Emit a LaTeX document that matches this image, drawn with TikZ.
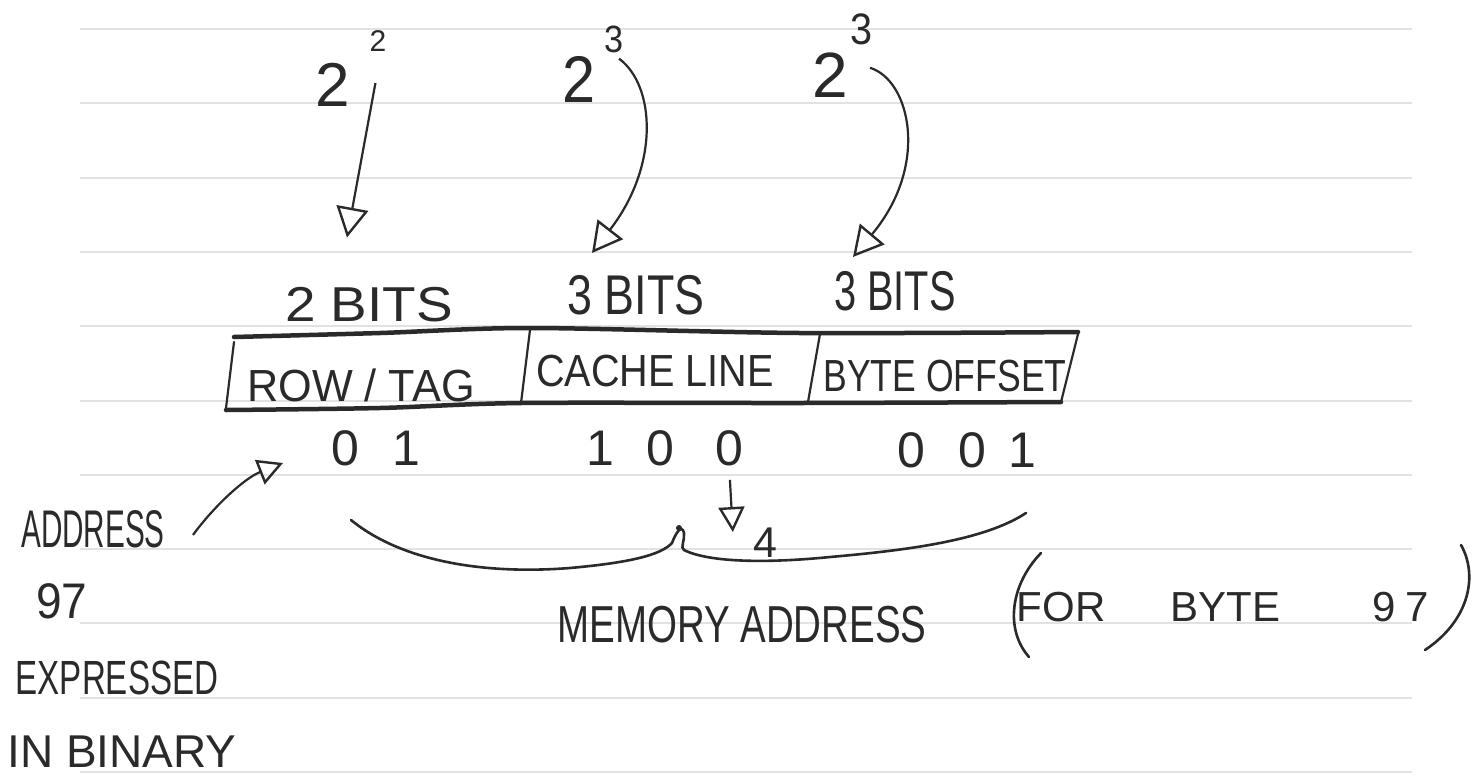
\documentclass[tikz,border=0pt]{standalone}
\usepackage{fontspec}
\usepackage{graphicx}
\setmainfont{Liberation Sans}
\usetikzlibrary{arrows.meta,calc}
\definecolor{ink}{HTML}{2A2A2A}
\definecolor{paperline}{HTML}{E2E2E2}
\newcommand\hw[3]{\scalebox{#3}[1]{\fontsize{#1}{#1}\selectfont #2}}
\begin{document}
\begin{tikzpicture}[x=1pt,y=-1pt,
  hw/.style={inner sep=0pt,text=ink,anchor=center},
  paper/.style={draw=paperline,line width=2pt},
  conn/.style={draw=ink,line width=2.2pt,-{Triangle[open,length=30pt,width=32pt,line width=2.4pt]}},
  connsm/.style={draw=ink,line width=2.2pt,-{Triangle[open,length=25pt,width=26pt,line width=2.4pt]}},
  thick box/.style={draw=ink,line width=4.5pt,line cap=round},
  thin box/.style={draw=ink,line width=2.2pt,line cap=round},
  pen/.style={draw=ink,line width=2.6pt,line cap=round}]
\useasboundingbox[fill=white] (0,0) rectangle (1482,782);
% ruled paper
\foreach \k in {0,...,10}
  \draw[paper] (80,{29+74.3*\k}) -- (1412,{29+74.3*\k});

% powers of two
\node[hw] (b1) at (333,85) {\hw{62}{2}{1}};
\node[hw] (e1) at (378,41) {\hw{30}{2}{1}};
\node[hw] (b2) at (579,79) {\hw{66}{2}{0.9}};
\node[hw] (e2) at (614,39) {\hw{38}{3}{0.9}};
\node[hw] (b3) at (830,75) {\hw{64}{2}{1}};
\node[hw] (e3) at (861,29) {\hw{44}{3}{0.9}};

% bit counts
\node[hw] (n1) at (369,305) {\hw{49}{2 BITS}{1.12}};
\node[hw] (n2) at (636,295) {\hw{56}{3 BITS}{0.8}};
\node[hw] (n3) at (895,291) {\hw{56}{3 BITS}{0.71}};

% arrows from powers to bit counts
\draw[conn] ($(b1.east)+(25,-2)$) -- ($(n1.north)+(-22,-50)$);
\draw[conn] ($(e2.south)+(5,6)$) .. controls (655,85) and (660,165) .. ($(n2.north)+(-44,-22)$);
\draw[conn] ($(e3.south)+(9,23)$) .. controls (910,80) and (930,165) .. ($(n3.north)+(-42,-14)$);

% address box
\draw[thick box] plot[smooth] coordinates {(234,337) (380,333) (530,328) (800,333) (1078,332)};
\draw[thick box] plot[smooth] coordinates {(226,410) (380,408) (521,403) (800,403) (1061,402)};
\draw[thin box] (234,342) -- (226,408);
\draw[thin box] (530,330) -- (521,403);
\draw[thin box] (820,334) -- (808,402);
\draw[thin box] (1078,334) -- (1061,402);
\node[hw] (c1) at (361,385) {\hw{45}{ROW / TAG}{0.96}};
\node[hw] (c2) at (655,371) {\hw{45}{CACHE LINE}{0.88}};
\node[hw] (c3) at (945,376) {\hw{45}{BYTE OFFSET}{0.79}};

% binary values
\node[hw] (v1) at (376,448) {\hw{50}{0\hspace{34pt}1}{1}};
\node[hw] (v2) at (665,448) {\hw{50}{1\hspace{32pt}0\hspace{42pt}0}{1}};
\node[hw] (v3) at (967,450) {\hw{50}{0\hspace{33pt}0\hspace{23pt}1}{1}};

% left note
\node[hw] (addr) at (93,529) {\hw{53}{ADDRESS}{0.56}};
\node[hw] (n97) at (62,601) {\hw{50}{97}{0.92}};
\node[hw] (expr) at (117,678) {\hw{48}{EXPRESSED}{0.69}};
\node[hw] (bin) at (122,752) {\hw{46}{IN BINARY}{1.0}};
\draw[connsm] ($(addr.east)+(28,6)$) .. controls (215,505) and (245,478) .. ($(v1.west)+(-48,15)$);

% brace under the bits
\draw[pen] (351,520) .. controls (400,560) and (480,575) .. (570,568)
  .. controls (625,563) and (660,556) .. (672,543)
  .. controls (676,532) and (682,524) .. (684,533)
  .. controls (685,540) and (680,548) .. (684,550)
  .. controls (710,563) and (770,563) .. (830,557)
  .. controls (910,550) and (985,540) .. (1026,513);
\fill[ink] (679,528) circle (3pt);

% cache line value 4
\node[hw] (four) at (765,543) {\hw{43}{4}{1}};
\draw[connsm] ($(v2.south east)+(-14,14)$) -- ($(four.north west)+(-20,4)$);

% memory address caption
\node[hw] (mem) at (742,625) {\hw{52}{MEMORY ADDRESS}{0.74}};
\node[hw] (forb) at (1223,607) {\hw{42}{FOR\hspace{65pt}BYTE\hspace{92pt}9\hspace{10pt}7}{1}};
\draw[pen] (1041,553) .. controls (1010,585) and (1005,630) .. (1029,657);
\draw[pen] (1461,545) .. controls (1478,575) and (1470,620) .. (1425,650);
\end{tikzpicture}
\end{document}
